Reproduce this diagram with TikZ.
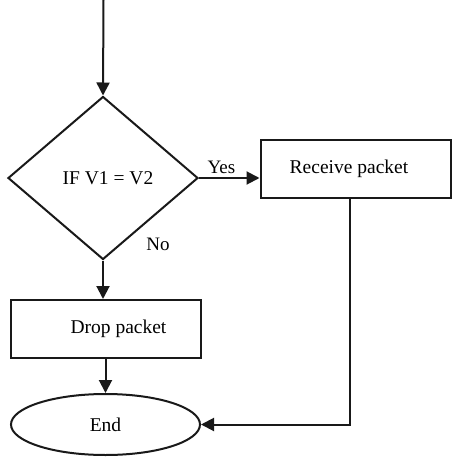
\documentclass[tikz,border=0pt]{standalone}
\usepackage{fontspec}
\setmainfont{Liberation Serif}
\usetikzlibrary{arrows.meta,shapes,calc}
\begin{document}
\begin{tikzpicture}[x=1pt,y=1pt]
\tikzstyle{main}=[draw=black!90, line width=2pt, inner sep=0pt, font=\fontsize{19.5}{23}\selectfont]
\tikzstyle{rect}=[main, rectangle, minimum width=190pt, minimum height=58pt]
\tikzstyle{test}=[main, diamond, minimum width=190pt, minimum height=163pt]
\tikzstyle{stop}=[main, ellipse, minimum width=189pt, minimum height=61pt]
\tikzstyle{connect}=[-{Triangle[length=13pt,width=13pt]}, line width=2pt, draw=black!90]
\tikzstyle{lbl}=[font=\fontsize{19}{23}\selectfont]

  \useasboundingbox (0,0) rectangle (454,-458);

  \coordinate (begin) at (103.5,0);
  \node[test] (check)   at (103,-178)                                              {\hspace*{10pt}IF V1 = V2};
  \node[rect] (receive) [right of =check, node distance=252.5pt, yshift=9.5pt]    {Receive packet\hspace*{13pt}};
  \node[rect] (drop)    [below of =check, node distance=151pt, xshift=2.5pt]      {\hspace*{26pt}Drop packet};
  \node[stop] (end)     [below of =drop,  node distance=95.5pt]                    {End};

  \path (begin) edge [connect] (check.north);
  \path (check.east) edge [connect] node [lbl, pos=0.37, above] (yes) {Yes} (check.east -| receive.west);
  \path (check.south) edge [connect] (check.south |- drop.north);
  \path (drop.south) edge [connect] (end.north);
  \draw[connect] ([xshift=-6pt]receive.south) |- (end.east);

  \node[lbl] (no) at ([shift={(55,16)}]check.south) {No};

\end{tikzpicture}
\end{document}
